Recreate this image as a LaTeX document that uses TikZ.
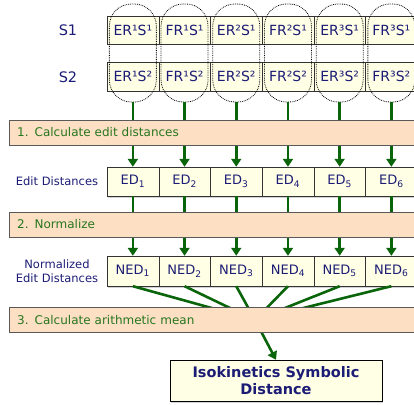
\documentclass[tikz,border=0pt]{standalone}
\usepackage{fontspec}
\setmainfont{DejaVu Sans}
\usetikzlibrary{arrows.meta, shadows}

\definecolor{navytext}{RGB}{28,28,118}
\definecolor{steptext}{RGB}{38,118,30}
\definecolor{flowgreen}{RGB}{10,100,10}
\definecolor{cellfill}{RGB}{255,255,229}
\definecolor{stepfill}{RGB}{253,223,196}

\begin{document}
\begin{tikzpicture}[x=1pt, y=-1pt,
            cellnode/.style={rectangle, draw=black!80, fill=cellfill, minimum width=51.7pt, inner sep=0pt, text=navytext},
            dropnode/.style={drop shadow={shadow xshift=1pt, shadow yshift=-2pt, fill=black!35}},
            pairnode/.style={rectangle, rounded corners=22pt, draw=black, densely dotted, thick, minimum width=47pt, minimum height=98pt},
            labelnode/.style={text=navytext, align=center, inner sep=0pt},
            stepnode/.style={rectangle, draw=black!65, fill=stepfill, anchor=west, text width=404pt, align=left, minimum height=23pt, inner sep=8pt, text=steptext, font=\fontsize{12}{14}\selectfont},
            flowarrow/.style={draw=flowgreen, line width=2.6pt, -{Triangle[length=8pt, width=10pt]}},
            flowline/.style={draw=flowgreen, line width=2.6pt}]
            \clip (0,0) rectangle (414,404);
            \useasboundingbox (0,0) rectangle (414,404);

            % Row labels
            \node[labelnode, font=\fontsize{14.5}{17}\selectfont] (lab-s1) at (68,30) {S1};
            \node[labelnode, font=\fontsize{14.5}{17}\selectfont] (lab-s2) at (68,77) {S2};
            \node[labelnode, font=\fontsize{11.5}{13}\selectfont] (lab-ed) at (57,181) {Edit Distances};
            \node[labelnode, font=\fontsize{11.5}{14.5}\selectfont] (lab-ned) at (57,271) {Normalized\\Edit Distances};

            % Sequence pairs, edit distances and normalized ones
            \foreach \i/\r/\k in {1/E/¹, 2/F/¹, 3/E/², 4/F/², 5/E/³, 6/F/³} {
                \node[cellnode, minimum height=28pt, font=\fontsize{14}{16}\selectfont] (s1-\i) at (81.15+51.7*\i,30) {\r R\k S¹};
                \node[cellnode, minimum height=29pt, font=\fontsize{14}{16}\selectfont] (s2-\i) at (81.15+51.7*\i,76.5) {\r R\k S²};
                \node[pairnode] (pair-\i) at (81.15+51.7*\i,53) {};
                \node[cellnode, dropnode, minimum height=29pt, font=\fontsize{13}{15}\selectfont] (ed-\i) at (81.15+51.7*\i,181.5) {ED\textsubscript{\i}};
                \node[cellnode, dropnode, minimum height=30pt, font=\fontsize{13}{15}\selectfont] (ned-\i) at (81.15+51.7*\i,271) {NED\textsubscript{\i}};
            }

            % Result
            \node[cellnode, dropnode, draw=black, minimum width=212pt, minimum height=41pt, align=center, font=\fontsize{14.5}{17}\selectfont\bfseries] (final) at (276,380.5) {Isokinetics Symbolic\\Distance};

            % Flow
            \coordinate (mean) at (255,320);
            \foreach \i in {1,...,6} {
                \draw[flowarrow] (pair-\i.south) -- (ed-\i.north);
                \draw[flowarrow] (ed-\i.south) -- (ned-\i.north);
                \draw[flowline] (ned-\i.south) -- (mean);
            }
            \draw[flowarrow] (mean) -- (final.north);

            % Processing steps
            \node[stepnode] (step-1) at (9,132.5) {1. Calculate edit distances};
            \node[stepnode] (step-2) at (9,224.5) {2. Normalize};
            \node[stepnode] (step-3) at (9,320) {3. Calculate arithmetic mean};
        \end{tikzpicture}
\end{document}
